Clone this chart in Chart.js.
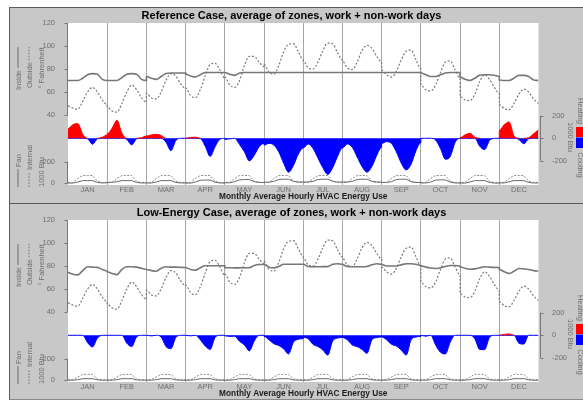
<!DOCTYPE html>
<html><head><meta charset="utf-8">
<script src="https://cdn.jsdelivr.net/npm/chart.js@4.4.1/dist/chart.umd.min.js"></script>
<style>
html,body{margin:0;padding:0;background:#fff;width:583px;height:402px;overflow:hidden;}
.panel{position:absolute;left:9px;width:574px;background:#c8c8c8;border-top:1px solid #5a5a5a;border-left:1px solid #5a5a5a;box-sizing:border-box;}
#p1{top:7px;height:196px;}
#p2{top:203px;height:197px;border-bottom:1px solid #8a8a8a;}
canvas{position:absolute;left:0;}
#c1{top:0;}
#c2{top:197px;}
</style></head><body>
<div class="panel" id="p1"></div><div class="panel" id="p2"></div>
<canvas id="c1" width="583" height="201"></canvas>
<canvas id="c2" width="583" height="201"></canvas>
<script>
const FONT = "'Liberation Sans', Arial, Helvetica, sans-serif";
const months = ['JAN','FEB','MAR','APR','MAY','JUN','JUL','AUG','SEP','OCT','NOV','DEC'];
const hours = [0,3,6,9,12,15,18,21,24];
const tempTicks = [40,60,80,100,120];
const fanTicks = [0,200];
const energyTicks = [-200,0,200];

// Outside dry-bulb (°F), same weather in both cases
const outsideTemp = [
 [48,46,45,52,60,64,60,53,49],
 [47,43.5,42.5,50,60,66,62,55,51],
 [59,55,54,60,70,76,74,67,63],
 [63.5,57,55,62,74,84,85,79,72],
 [73,66,64,70,83,91,91,86,82],
 [84,77,75.5,83,95,101.5,102,95,88],
 [87,81,80,86,96,102.5,102,94,88],
 [87,81,79.5,86,96,100.5,98,91,86],
 [79,75,73,78,88,95.5,96.5,88,80],
 [66,62,61,66,77,86,87,79,72],
 [56,53,52.5,58,69,75,71,64,59],
 [49,45.5,44.5,50,58,62.5,60,54,50]
];

// Reference case
const refInside = [
 [70,70,70,72,75,76,75.5,71,70],
 [70,70,70,72.5,75.5,76,75.5,71,70],
 [73.5,72,71,73.5,76,76.5,76.5,76.5,76.5],
 [75.5,74,73,75,77,77,77,77,77],
 [77,75.5,74.5,76.5,77,77,77,77,77],
 [77,77,77,77,77,77,77,77,77],
 [77,77,77,77,77,77,77,77,77],
 [77,77,77,77,77,77,77,77,77],
 [77,77,77,77,77,77,77,77,77],
 [76.5,75,73.5,73.5,75,76.5,77,77,77],
 [73,71,70,72,74.5,75,75,74.5,73.5],
 [70.5,70,70,72,74.5,74.5,73.5,70.5,70]
];
const refHeating = [
 [80,120,130,35,0,0,0,10,30],
 [40,90,160,45,0,0,0,5,20],
 [20,30,35,25,0,0,0,0,0],
 [0,8,10,0,0,0,0,0,0],
 [0,0,0,0,0,0,0,0,0],
 [0,0,0,0,0,0,0,0,0],
 [0,0,0,0,0,0,0,0,0],
 [0,0,0,0,0,0,0,0,0],
 [0,0,0,0,0,0,0,0,0],
 [0,0,0,0,0,0,0,0,0],
 [5,30,44,10,0,0,0,0,0],
 [70,120,145,20,0,0,5,40,75]
];
const refCooling = [
 [0,0,0,0,-5,-53,-5,0,0],
 [0,0,0,0,-10,-58,-5,0,0],
 [0,0,0,0,-35,-110,-20,0,0],
 [0,0,0,-3,-70,-160,-75,-8,0],
 [-10,-5,0,-55,-120,-200,-150,-75,-45],
 [-60,-45,-60,-120,-220,-300,-240,-140,-85],
 [-85,-50,-90,-175,-260,-320,-260,-160,-85],
 [-85,-50,-80,-165,-250,-300,-250,-150,-80],
 [-45,-30,-45,-120,-220,-280,-230,-110,-40],
 [0,0,0,-15,-90,-185,-160,-35,0],
 [0,0,0,0,-70,-100,-20,0,0],
 [0,0,0,0,-10,-48,-5,0,0]
];
const refFan = [
 [2,2,12,25,25,25,8,3,5],
 [8,10,15,25,25,25,8,3,3],
 [3,3,12,25,25,25,8,3,3],
 [2,2,12,28,30,30,10,3,2],
 [5,5,15,32,35,35,15,8,8],
 [10,10,18,35,38,38,18,12,12],
 [12,12,18,35,38,38,18,12,12],
 [12,12,18,35,38,38,18,12,12],
 [8,8,15,35,38,38,15,8,8],
 [3,3,12,30,32,32,10,3,3],
 [2,2,12,25,25,25,8,2,2],
 [3,4,14,25,25,25,8,3,3]
];
const refInternalDay = [8,8,45,72,72,72,18,8,8];

// Low-energy case
const lowInside = [
 [74.5,72.8,72.3,76,79.3,79,78.8,77,75.5],
 [75,73.5,72.5,77,79.3,79.3,79,78,77],
 [77,76,75.5,78,79.3,79,79,78.8,78.7],
 [78.5,77,76.4,78.5,80.2,80.2,80.2,80.2,80.2],
 [78.5,78.5,78.4,78.4,78.5,78.5,80.5,81.3,81.3],
 [81.3,79,78.4,79.5,81.5,81.5,81.5,81.5,81.5],
 [81.5,79.5,79.3,79.3,79.5,79.5,81.5,82,81.5],
 [81.3,79.5,79.3,79.3,79.3,79.5,81,82,81.5],
 [81.3,80,80,80,81,82,82,81.5,80.5],
 [80.1,79,78.2,77.8,78.5,79.5,80.5,80.5,80],
 [79.3,78,77.2,77.5,78.5,79.3,79,78.8,78.7],
 [77,75,73.5,75.5,77.8,77.5,77,76,75.5]
];
const lowHeating = [
 [0,0,0,0,0,0,0,0,0],[0,0,0,0,0,0,0,0,0],[0,0,0,0,0,0,0,0,0],
 [0,0,0,0,0,0,0,0,0],[0,0,0,0,0,0,0,0,0],[0,0,0,0,0,0,0,0,0],
 [0,0,0,0,0,0,0,0,0],[0,0,0,0,0,0,0,0,0],[0,0,0,0,0,0,0,0,0],
 [0,0,0,0,0,0,0,0,0],[0,0,0,0,0,0,0,0,0],
 [0,8,12,0,0,0,0,0,0]
];
const lowCooling = [
 [0,0,0,0,-65,-103,-25,0,0],
 [0,0,0,0,-70,-100,-15,0,0],
 [0,-5,0,-15,-100,-118,-20,0,0],
 [0,-5,0,-40,-95,-125,-20,0,0],
 [-5,-10,-8,-53,-85,-138,-50,0,0],
 [-10,-40,-75,-90,-120,-165,-60,-35,-30],
 [-20,-30,-80,-100,-130,-175,-50,-25,-20],
 [-20,-40,-85,-100,-125,-160,-40,-20,-15],
 [-15,-40,-80,-95,-130,-175,-40,-15,-10],
 [0,-8,0,-85,-150,-165,-60,0,0],
 [0,0,0,-30,-125,-127,-20,0,0],
 [0,0,0,0,-70,-78,0,0,0]
];
const lowFanDay = [1,1,6,15,15,15,4,1,1];
const lowInternalDay = [5,5,30,55,55,55,12,5,5];

function toPoints(rows){
  const pts = [];
  rows.forEach((row, m) => row.forEach((v, i) => pts.push({x: m*24 + hours[i], y: v})));
  return pts;
}
const everyMonth = (profile) => months.map(() => profile);

const sidePlugin = {
  id: 'side',
  beforeDraw(chart){
    const {ctx, chartArea: a} = chart;
    ctx.save();
    ctx.fillStyle = '#ffffff';
    ctx.fillRect(a.left, a.top, a.right - a.left, a.bottom - a.top);
    ctx.restore();
  },
  afterDraw(chart){
    const {ctx, chartArea: a} = chart;
    const yT = chart.scales.yT, yF = chart.scales.yF, yE = chart.scales.yE;
    ctx.save();
    ctx.strokeStyle = '#777'; ctx.lineWidth = 1;
    const vline = (x, y1, y2) => { ctx.beginPath(); ctx.moveTo(x, y1); ctx.lineTo(x, y2); ctx.stroke(); };
    const hline = (x1, x2, y) => { ctx.beginPath(); ctx.moveTo(x1, y); ctx.lineTo(x2, y); ctx.stroke(); };
    const lx = a.left - 0.5;
    vline(lx, yT.getPixelForValue(120), yT.getPixelForValue(40));
    tempTicks.forEach(v => hline(lx - 3, lx, Math.round(yT.getPixelForValue(v)) + 0.5));
    vline(lx, yF.getPixelForValue(200), yF.getPixelForValue(0));
    fanTicks.forEach(v => hline(lx - 3, lx, Math.round(yF.getPixelForValue(v)) + 0.5));
    const rx = Math.round(a.right) + 1.5;
    vline(rx, yE.getPixelForValue(200), yE.getPixelForValue(-200));
    energyTicks.forEach(v => hline(rx, rx + 3, Math.round(yE.getPixelForValue(v)) + 0.5));

    ctx.fillStyle = '#6e6e6e';
    ctx.font = '7.5px ' + FONT;
    ctx.textBaseline = 'alphabetic';
    ctx.textAlign = 'left';
    const upText = (t, x, yBottom) => {
      ctx.save(); ctx.translate(x, yBottom); ctx.rotate(-Math.PI/2); ctx.fillText(t, 0, 0); ctx.restore();
      return ctx.measureText(t).width;
    };
    const downText = (t, x, yCenter) => {
      ctx.save(); ctx.translate(x, yCenter); ctx.rotate(Math.PI/2); ctx.textAlign = 'center'; ctx.fillText(t, 0, 0); ctx.restore();
    };
    ctx.strokeStyle = '#6e6e6e';
    // top-left group
    let w = upText('Inside', 20.5, 90);
    vline(18, 90 - w - 2, 47);
    w = upText('Outside', 31.5, 88);
    ctx.setLineDash([1.5, 1.5]); vline(29, 88 - w - 2, 47); ctx.setLineDash([]);
    w = ctx.measureText('° Fahrenheit').width;
    upText('° Fahrenheit', 43.5, 68 + w/2);
    // bottom-left group
    vline(18, 187, 169);
    upText('Fan', 20.5, 167);
    ctx.setLineDash([1.5, 1.5]); vline(29, 187, 172); ctx.setLineDash([]);
    upText('Internal', 31.5, 170);
    w = ctx.measureText('1000 Btu').width;
    upText('1000 Btu', 43.5, 172 + w/2);
    // right legend
    downText('1000 Btu', 567.5, 137);
    ctx.fillStyle = '#ff0000'; ctx.fillRect(576, 127, 7, 10);
    ctx.fillStyle = '#0000ff'; ctx.fillRect(576, 137.5, 7, 10.5);
    ctx.fillStyle = '#6e6e6e';
    downText('Heating', 577.5, 111);
    downText('Cooling', 577.5, 165);
    ctx.restore();
  }
};

function makePanel(id, titleText, inside, outside, heating, cooling, fan, internal){
  const base = {pointRadius: 0, pointHoverRadius: 0, cubicInterpolationMode: 'monotone', fill: false};
  const tickFont = {family: FONT, size: 7.5};
  return new Chart(document.getElementById(id), {
    type: 'line',
    data: {datasets: [
      {...base, label: 'Inside', data: toPoints(inside), yAxisID: 'yT', borderColor: '#777777', borderWidth: 1.6},
      {...base, label: 'Outside', data: toPoints(outside), yAxisID: 'yT', borderColor: '#7a7a7a', borderWidth: 1.2, borderDash: [2, 1.8]},
      {...base, label: 'Fan', data: toPoints(fan), yAxisID: 'yF', borderColor: '#6a6a6a', borderWidth: 1, cubicInterpolationMode: 'default', tension: 0},
      {...base, label: 'Internal', data: toPoints(internal), yAxisID: 'yF', borderColor: '#8a8a8a', borderWidth: 1, borderDash: [2, 1.5], cubicInterpolationMode: 'default', tension: 0},
      {...base, label: 'Heating', data: toPoints(heating), yAxisID: 'yE', borderColor: '#ff0000', backgroundColor: '#ff0000', borderWidth: 1, fill: 'origin',
        segment: {borderColor: c => (c.p0.parsed.y === 0 && c.p1.parsed.y === 0) ? 'rgba(0,0,0,0)' : '#ff0000'}},
      {...base, label: 'Cooling', data: toPoints(cooling), yAxisID: 'yE', borderColor: '#0000ff', backgroundColor: '#0000ff', borderWidth: 1, fill: 'origin'}
    ]},
    options: {
      responsive: false, animation: false, events: [],
      layout: {padding: 0},
      plugins: {
        legend: {display: false}, tooltip: {enabled: false},
        title: {display: true, text: titleText, color: '#000', font: {family: FONT, size: 11, weight: 'bold'}, padding: {top: 9.8, bottom: 0}}
      },
      scales: {
        x: {
          type: 'linear', min: 0, max: 288, bounds: 'data', position: 'bottom',
          afterBuildTicks: s => { s.ticks = []; for (let v = 0; v <= 288; v += 12) s.ticks.push({value: v}); },
          afterFit: s => { s.height = 16; },
          grid: {color: c => { const v = c.tick ? c.tick.value : -1; return (v % 24 === 0 && v > 0 && v < 288) ? '#a6a6a6' : 'rgba(0,0,0,0)'; }, lineWidth: 1, drawTicks: false},
          border: {display: false},
          ticks: {autoSkip: false, maxRotation: 0, padding: 0, color: '#6e6e6e', font: tickFont,
            callback: v => (v % 24 === 12) ? months[(v - 12) / 24] : ''},
          title: {display: true, text: 'Monthly Average Hourly HVAC Energy Use', color: '#1a1a1a', padding: 0,
            font: {family: FONT, size: 8.3, weight: 'bold', lineHeight: 1}}
        },
        yT: {
          type: 'linear', position: 'left', stack: 'leftStack', stackWeight: 115, weight: 1,
          min: 20, max: 120, bounds: 'data',
          afterBuildTicks: s => { s.ticks = tempTicks.map(v => ({value: v})); },
          afterFit: s => { s.width = 68; },
          grid: {display: false}, border: {display: false},
          ticks: {padding: 5, color: '#6e6e6e', font: tickFont}
        },
        yF: {
          type: 'linear', position: 'left', stack: 'leftStack', stackWeight: 47, weight: 0,
          min: -15.7, max: 419.4, bounds: 'data',
          afterBuildTicks: s => { s.ticks = fanTicks.map(v => ({value: v})); },
          afterFit: s => { s.width = 68; },
          grid: {display: false}, border: {display: false},
          ticks: {padding: 5, color: '#6e6e6e', font: tickFont}
        },
        yE: {
          type: 'linear', position: 'right', min: -413.3, max: 1020.4, bounds: 'data',
          afterBuildTicks: s => { s.ticks = energyTicks.map(v => ({value: v})); },
          afterFit: s => { s.width = 44.5; },
          grid: {display: false}, border: {display: false},
          ticks: {padding: 5.5, color: '#6e6e6e', font: tickFont}
        }
      }
    },
    plugins: [sidePlugin]
  });
}

makePanel('c1', 'Reference Case, average of zones, work + non-work days',
  refInside, outsideTemp, refHeating, refCooling, refFan, everyMonth(refInternalDay));
makePanel('c2', 'Low-Energy Case, average of zones, work + non-work days',
  lowInside, outsideTemp, lowHeating, lowCooling, everyMonth(lowFanDay), everyMonth(lowInternalDay));
</script>
</body></html>
